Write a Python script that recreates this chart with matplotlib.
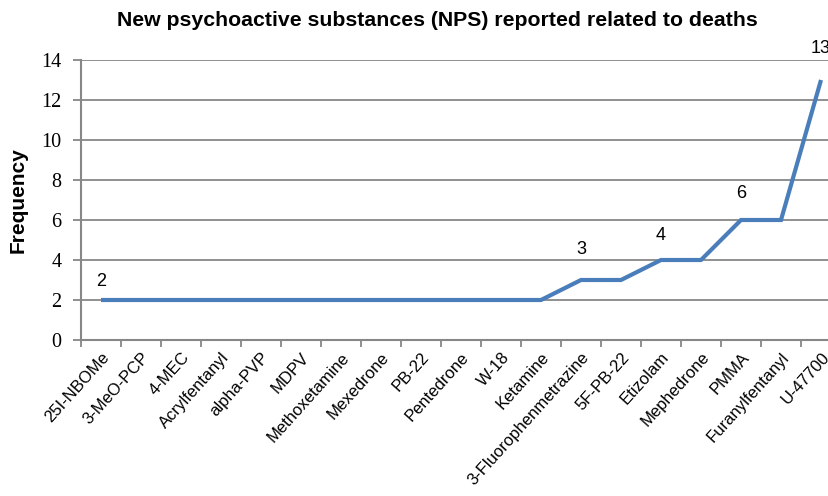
import matplotlib
matplotlib.use("Agg")
import matplotlib.pyplot as plt
import matplotlib.transforms as mtransforms

substances = [
    "25I-NBOMe", "3-MeO-PCP", "4-MEC", "Acrylfentanyl", "alpha-PVP", "MDPV",
    "Methoxetamine", "Mexedrone", "PB-22", "Pentedrone", "W-18", "Ketamine",
    "3-Fluorophenmetrazine", "5F-PB-22", "Etizolam", "Mephedrone", "PMMA",
    "Furanylfentanyl", "U-47700",
]
frequency = [2, 2, 2, 2, 2, 2, 2, 2, 2, 2, 2, 2, 3, 3, 4, 4, 6, 6, 13]
labelled = ["25I-NBOMe", "3-Fluorophenmetrazine", "Etizolam", "PMMA", "U-47700"]
label_offsets = [18, 31, 25, 27, 31]  # pixels above the point

W, H = 829, 496
fig = plt.figure(figsize=(W / 100, H / 100), dpi=100, facecolor="white")
ax = fig.add_axes([81 / W, (H - 340) / H, (841 - 81) / W, 280 / H])

grey = "#878787"
x = range(len(substances))
ax.plot(x, frequency, color="#4A7EBB", linewidth=3, solid_capstyle="butt",
        solid_joinstyle="miter", zorder=3)

ax.set_xlim(-0.5, len(substances) - 0.5)
ax.set_ylim(0, 14)
ax.set_yticks(range(0, 15, 2))
ax.yaxis.grid(True, color=grey, linewidth=1.3)
ax.set_axisbelow(True)

ax.set_xticks([i - 0.5 for i in range(len(substances) + 1)], minor=False)
ax.set_xticklabels([])
ax.set_xticks(list(x), minor=True)
ax.set_xticklabels(substances, minor=True, rotation=48, ha="right",
                   rotation_mode="anchor", fontsize=12,
                   family="Liberation Sans")
shift = mtransforms.ScaledTranslation(-3 / 100, 0, fig.dpi_scale_trans)
for lab in ax.get_xticklabels(minor=True):
    lab.set_transform(lab.get_transform() + shift)
ax.tick_params(axis="x", which="minor", length=0, pad=7)
ax.tick_params(axis="x", which="major", length=5, width=1.3, color=grey,
               direction="out")
ax.tick_params(axis="y", length=6, width=1.3, color=grey, direction="out",
               labelsize=14.5, pad=8)
for lab in ax.get_yticklabels():
    lab.set_family("Liberation Serif")

for side in ("top", "right"):
    ax.spines[side].set_visible(False)
for side in ("left", "bottom"):
    ax.spines[side].set_color(grey)
    ax.spines[side].set_linewidth(1.5)

for name, off in zip(labelled, label_offsets):
    i = substances.index(name)
    ax.annotate(str(frequency[i]), (i, frequency[i]), xytext=(0, off * 0.72),
                textcoords="offset points", ha="center", va="center",
                fontsize=13, family="Liberation Sans", annotation_clip=False)

ax.set_ylabel("Frequency", fontsize=15, fontweight="bold",
              family="Liberation Sans", labelpad=10)
fig.text(437 / W, 1 - 20 / H,
         "New psychoactive substances (NPS) reported related to deaths",
         ha="center", va="center", fontsize=15.3, fontweight="bold",
         family="Liberation Sans")

fig.savefig("out.png", dpi=100, facecolor="white")
